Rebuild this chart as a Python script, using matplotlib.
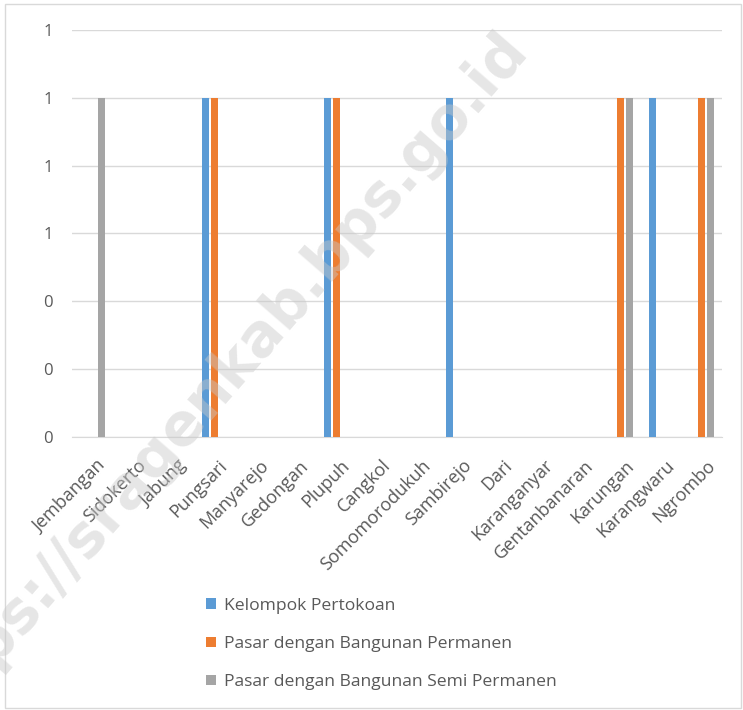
import matplotlib
matplotlib.use("Agg")
import matplotlib.pyplot as plt
from matplotlib.patches import Rectangle
from matplotlib.transforms import ScaledTranslation
import numpy as np

# village names on the x axis
villages = ["Jembangan", "Sidokerto", "Jabung", "Pungsari", "Manyarejo",
            "Gedongan", "Plupuh", "Cangkol", "Somomorodukuh", "Sambirejo",
            "Dari", "Karanganyar", "Gentanbanaran", "Karungan", "Karangwaru",
            "Ngrombo"]

# number of markets per type
kelompok_pertokoan = [0, 0, 0, 1, 0, 0, 1, 0, 0, 1, 0, 0, 0, 0, 1, 0]
pasar_permanen = [0, 0, 0, 1, 0, 0, 1, 0, 0, 0, 0, 0, 0, 1, 0, 1]
pasar_semi_permanen = [1, 0, 0, 0, 0, 0, 0, 0, 0, 0, 0, 0, 0, 1, 0, 1]

series_names = ["Kelompok Pertokoan", "Pasar dengan Bangunan Permanen",
                "Pasar dengan Bangunan Semi Permanen"]
colors = ["#5b9bd5", "#ed7d31", "#a5a5a5"]

plt.rcParams["font.family"] = ["Open Sans", "DejaVu Sans"]
text_color = "#595959"

fig = plt.figure(figsize=(7.43, 7.10), dpi=100)
ax = fig.add_axes([0.097, 0.3845, 0.875, 0.5735])

x = np.arange(len(villages))
offsets = [-0.22, 0.0, 0.22]
width = 0.17
for vals, off, col, name in zip([kelompok_pertokoan, pasar_permanen, pasar_semi_permanen],
                                offsets, colors, series_names):
    ax.bar(x + off, vals, width=width, color=col, label=name, zorder=3)

ax.set_xlim(-0.5, len(villages) - 0.5)
ax.set_ylim(0, 1.2)
ax.set_yticks(np.arange(0, 1.21, 0.2))
ax.yaxis.set_major_formatter(matplotlib.ticker.FormatStrFormatter("%.0f"))
ax.grid(axis="y", color="#d9d9d9", linewidth=1, zorder=0)
for s in ["top", "right", "left"]:
    ax.spines[s].set_visible(False)
ax.spines["bottom"].set_color("#d9d9d9")
ax.tick_params(axis="both", length=0, colors=text_color, labelsize=12)
ax.tick_params(axis="y", pad=14)
ax.tick_params(axis="x", pad=14)
ax.set_xticks(x)
ax.set_xticklabels(villages, rotation=45, ha="right", va="top",
                   rotation_mode="anchor", color=text_color, fontsize=13)
# nudge labels a little to the right, like the original
shift = ScaledTranslation(3 / 72, 0, fig.dpi_scale_trans)
for lab in ax.get_xticklabels():
    lab.set_transform(lab.get_transform() + shift)

leg = fig.legend(loc="upper left", bbox_to_anchor=(0.2565, 0.180), frameon=False,
                 fontsize=12.6, handlelength=0.55, handleheight=0.55,
                 labelspacing=1.27, handletextpad=0.45)
for t in leg.get_texts():
    t.set_color(text_color)

# chart border
fig.patches.append(Rectangle((0.007, 0.003), 0.99, 0.991, transform=fig.transFigure,
                             fill=False, edgecolor="#d9d9d9", linewidth=1))

# watermark
fig.text(0.292, 0.458, "https://sragenkab.bps.go.id", rotation=49, fontsize=42,
         fontweight="bold", color="#c8c8c8", alpha=0.45, ha="center", va="center",
         family="DejaVu Sans", zorder=10)

fig.savefig("out.png", dpi=100)
